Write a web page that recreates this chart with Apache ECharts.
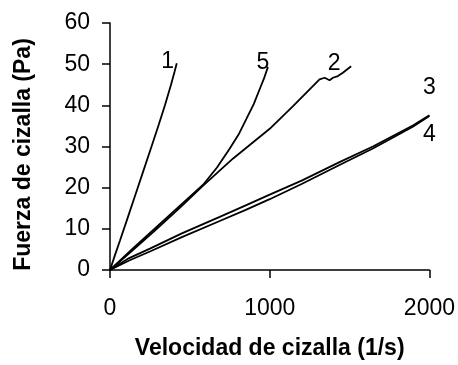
<!DOCTYPE html>
<html>
<head>
<meta charset="utf-8">
<script src="https://cdn.jsdelivr.net/npm/echarts@6/dist/echarts.min.js"></script>
<style>
html,body{margin:0;padding:0;background:#fff;}
#chart{width:458px;height:365px;}
</style>
</head>
<body>
<div id="chart"></div>
<script>
// Tick labels
const xTicks = [0, 1000, 2000];
const yTicks = [0, 10, 20, 30, 40, 50, 60];
const xTitle = 'Velocidad de cizalla (1/s)';
const yTitle = 'Fuerza de cizalla (Pa)';

// Series: [velocity (1/s), stress (Pa)]
const curve1 = [[0,0],[30,3.5],[62,7.1],[110,12.6],[160,18.4],[210,24.2],[260,30],[305,35.3],[344,40],[382,45],[405,48.3],[418,50.2]];
const curve5 = [[0,0],[140,5.1],[290,10.4],[440,15.7],[583,20.7],[670,24.9],[750,29.5],[805,32.9],[854,36.7],[900,40.3],[937,43.9],[965,46.6],[989,49.3]];
const curve2 = [[0,0],[140,4.7],[290,9.9],[440,15.2],[583,20.5],[771,27.1],[1000,34.3],[1146,39.8],[1312,46.3],[1344,46.7],[1375,46.1],[1396,46.7],[1427,47.1],[1458,47.9],[1510,49.5]];
const curve3 = [[0,0],[120,2.9],[250,5.2],[450,8.9],[687,12.9],[850,15.7],[1000,18.3],[1200,21.7],[1437,26.2],[1646,30.0],[1896,35.1],[2000,37.6]];
const curve4 = [[0,0],[120,2.3],[250,4.5],[450,8.0],[687,11.9],[850,14.6],[1000,17.2],[1200,20.9],[1437,25.5],[1646,29.5],[1896,34.8],[2000,37.4]];
const curveNames = ['1', '5', '2', '3', '4'];

const labelFont = 'Liberation Sans Narrow, Arial Narrow, sans-serif';
const mainFont = 'Liberation Sans, Arial, sans-serif';
function tag(text, point, offset) {
  return {
    symbol: 'circle', symbolSize: 1, silent: true,
    itemStyle: { color: 'rgba(0,0,0,0)' },
    label: { show: true, position: 'inside', formatter: text, offset: offset,
      color: '#000', fontSize: 23, fontFamily: labelFont },
    data: [{ coord: point }]
  };
}
function mkSeries(name, data, offset) {
  return {
    name: name, type: 'line', data: data, showSymbol: false, smooth: false,
    lineStyle: { color: '#000', width: 1.8 },
    markPoint: tag(name, data[data.length - 1], offset),
    z: 3
  };
}

const chart = echarts.init(document.getElementById('chart'));
chart.setOption({
  animation: false,
  backgroundColor: '#fff',
  grid: { left: 110, right: 28, top: 23, bottom: 92 },
  xAxis: {
    type: 'value', min: xTicks[0], max: xTicks[xTicks.length - 1], interval: 1000,
    name: xTitle, nameLocation: 'middle', nameGap: 67,
    nameTextStyle: { fontSize: 23, fontWeight: 'bold', color: '#000', fontFamily: mainFont },
    axisLine: { show: true, lineStyle: { color: '#000', width: 1.5 } },
    axisTick: { show: true, length: 8, lineStyle: { color: '#000', width: 1.5 } },
    axisLabel: { margin: 27, fontSize: 23, color: '#000', fontFamily: mainFont, formatter: v => String(v) },
    splitLine: { show: false }
  },
  yAxis: {
    type: 'value', min: yTicks[0], max: yTicks[yTicks.length - 1], interval: 10,
    name: yTitle, nameLocation: 'middle', nameGap: 75,
    nameTextStyle: { fontSize: 23, fontWeight: 'bold', color: '#000', fontFamily: mainFont, padding: [0, 0, 0, -16] },
    axisLine: { show: true, lineStyle: { color: '#000', width: 1.5 } },
    axisTick: { show: true, length: 8, lineStyle: { color: '#000', width: 1.5 } },
    axisLabel: { margin: 20, fontSize: 23, color: '#000', fontFamily: mainFont, formatter: v => String(v) },
    splitLine: { show: false }
  },
  series: [
    mkSeries(curveNames[0], curve1, [-9, -2]),
    mkSeries(curveNames[1], curve5, [-5, -4]),
    mkSeries(curveNames[2], curve2, [-17, -3]),
    mkSeries(curveNames[3], curve3, [0, -28]),
    mkSeries(curveNames[4], curve4, [0, 19])
  ]
});
</script>
</body>
</html>
